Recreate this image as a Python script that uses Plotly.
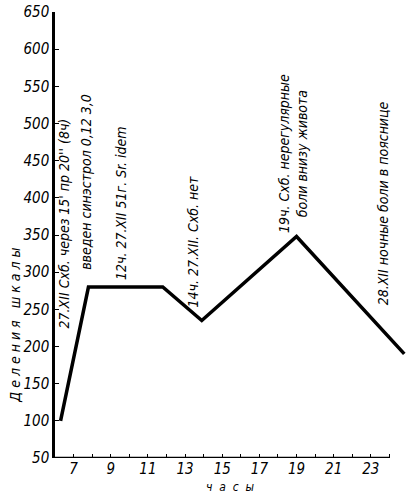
import plotly.graph_objects as go

# data
hours = [6.3, 7.8, 11.8, 13.9, 19.0, 24.8]
scale_divisions = [100, 280, 280, 235, 348, 190]

x_tick_hours = list(range(7, 25))
x_tick_labels = [str(h) if h % 2 == 1 else "" for h in x_tick_hours]
y_tick_values = list(range(50, 651, 50))
y_tick_labels = [str(v) for v in y_tick_values]

notes_text = [
    "27.XII Схб. через 15' пр 20'' (8ч)",
    "введен синэстрол 0,12 3,0",
    "12ч. 27.XII 51г. Sr. idem",
    "14ч. 27.XII. Схб. нет",
    "19ч. Схб. нерегулярные<br>боли внизу живота",
    "28.XII ночные боли в пояснице",
]
notes_x = [6.46, 7.7, 9.55, 13.4, 18.8, 23.67]
notes_y = [365, 421, 393, 342, 460, 393]

FONT = "Liberation Sans Narrow, DejaVu Sans Condensed, Liberation Sans, sans-serif"

W, H = 409, 497
L, R, T, B = 55, 1, 12, 39
PW, PH = W - L - R, H - T - B

fig = go.Figure()
fig.add_trace(go.Scatter(
    x=hours, y=scale_divisions, mode="lines",
    line=dict(color="black", width=3.5), showlegend=False, hoverinfo="skip",
))

for t, x, y in zip(notes_text, notes_x, notes_y):
    fig.add_annotation(x=x, y=y, xref="x", yref="y", text=t, showarrow=False,
                       textangle=-90, xanchor="center", yanchor="middle",
                       font=dict(family=FONT, size=14, color="black", style="italic"))

fig.add_annotation(x=(15 - L) / PW, y=228, xref="paper", yref="y",
                   text="Д е л е н и я   ш к а л ы",
                   showarrow=False, textangle=-90, xanchor="center", yanchor="middle",
                   font=dict(family=FONT, size=14, color="black", style="italic"))
fig.add_annotation(x=(230 - L) / PW, y=-(487 - (H - B)) / PH, xref="paper", yref="paper",
                   text="ч  а  с  ы", showarrow=False, xanchor="center", yanchor="middle",
                   font=dict(family=FONT, size=12, color="black", style="italic"))

# x-axis line up to hour 24
fig.add_shape(type="line", xref="x", yref="y", x0=6, x1=24, y0=50, y1=50,
              line=dict(color="black", width=2.5))

fig.update_layout(
    width=W, height=H,
    margin=dict(l=L, r=R, t=T, b=B),
    paper_bgcolor="white", plot_bgcolor="white",
    font=dict(family=FONT, color="black"),
)
fig.update_xaxes(range=[6, 25], showgrid=False, zeroline=False, showline=False, automargin=False,
                 tickmode="array", tickvals=x_tick_hours, ticktext=x_tick_labels,
                 ticks="inside", ticklen=4, tickcolor="black", tickwidth=1,
                 tickfont=dict(family=FONT, size=15, style="italic"))
fig.update_yaxes(range=[50, 650], showgrid=False, zeroline=False, automargin=False,
                 showline=True, linecolor="black", linewidth=2.5,
                 tickmode="array", tickvals=y_tick_values, ticktext=y_tick_labels,
                 ticks="inside", ticklen=4, tickcolor="black", tickwidth=1,
                 tickfont=dict(family=FONT, size=15, style="italic"))

fig.write_html("out.html",
               config={"displayModeBar": False},
               post_script="document.body.style.margin='0';document.body.style.overflow='hidden';")
